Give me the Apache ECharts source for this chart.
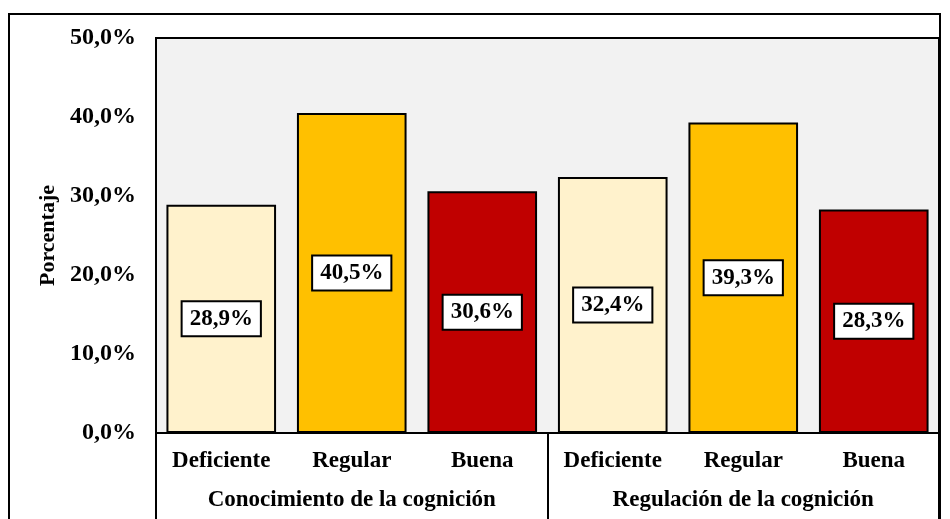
<!DOCTYPE html>
<html>
<head>
<meta charset="utf-8">
<script src="https://cdn.jsdelivr.net/npm/echarts@6/dist/echarts.min.js"></script>
<style>html,body{margin:0;padding:0;background:#fff}#c{width:950px;height:519px}</style>
</head>
<body>
<div id="c"></div>
<script>
const categories = ['Deficiente', 'Regular', 'Buena', 'Deficiente', 'Regular', 'Buena'];
const groups = ['Conocimiento de la cognición', 'Regulación de la cognición'];
const values = [28.9, 40.5, 30.6, 32.4, 39.3, 28.3];
const colors = ['#FFF2CC', '#FFC000', '#C00000', '#FFF2CC', '#FFC000', '#C00000'];
const yTicks = [0, 10, 20, 30, 40, 50];

const FONT = '"Liberation Serif", "Times New Roman", serif';
const fmt = v => v.toFixed(1).replace('.', ',') + '%';

const chart = echarts.init(document.getElementById('c'));
chart.setOption({
  animation: false,
  backgroundColor: '#fff',
  graphic: [{
    type: 'rect', z: 100, silent: true,
    shape: { x: 9, y: 14, width: 931, height: 540 },
    style: { fill: 'none', stroke: '#000', lineWidth: 2 }
  }],
  grid: {
    left: 156, top: 38, right: 11, bottom: 86,
    show: true, backgroundColor: '#F2F2F2', borderColor: '#000', borderWidth: 2
  },
  xAxis: [{
    type: 'category', data: categories, position: 'bottom',
    axisLine: { lineStyle: { color: '#000', width: 2 } },
    axisTick: { show: false },
    axisLabel: { color: '#000', fontFamily: FONT, fontWeight: 'bold', fontSize: 23, margin: 17, interval: 0 }
  }, {
    type: 'category', data: groups, position: 'bottom',
    axisLine: { show: false },
    axisTick: { show: true, length: 100, lineStyle: { color: '#000', width: 2 } },
    axisLabel: { color: '#000', fontFamily: FONT, fontWeight: 'bold', fontSize: 23, margin: 56, interval: 0 }
  }],
  yAxis: {
    type: 'value', min: yTicks[0], max: yTicks[yTicks.length - 1], interval: 10,
    name: 'Porcentaje', nameLocation: 'middle', nameGap: 97, nameRotate: 90,
    nameTextStyle: { color: '#000', fontFamily: FONT, fontWeight: 'bold', fontSize: 22 },
    axisLine: { show: false }, axisTick: { show: false }, splitLine: { show: false },
    axisLabel: { color: '#000', fontFamily: FONT, fontWeight: 'bold', fontSize: 24, margin: 20, formatter: v => fmt(v) }
  },
  series: [{
    type: 'bar', xAxisIndex: 0, barCategoryGap: '16%',
    data: values.map((v, i) => ({ value: v, itemStyle: { color: colors[i] } })),
    itemStyle: { borderColor: '#000', borderWidth: 2 },
    label: {
      show: true, position: 'inside', formatter: p => fmt(p.value),
      color: '#000', fontFamily: FONT, fontWeight: 'bold', fontSize: 23,
      backgroundColor: '#fff', borderColor: '#000', borderWidth: 2, padding: [6, 7, 4, 7]
    }
  }]
});
</script>
</body>
</html>
